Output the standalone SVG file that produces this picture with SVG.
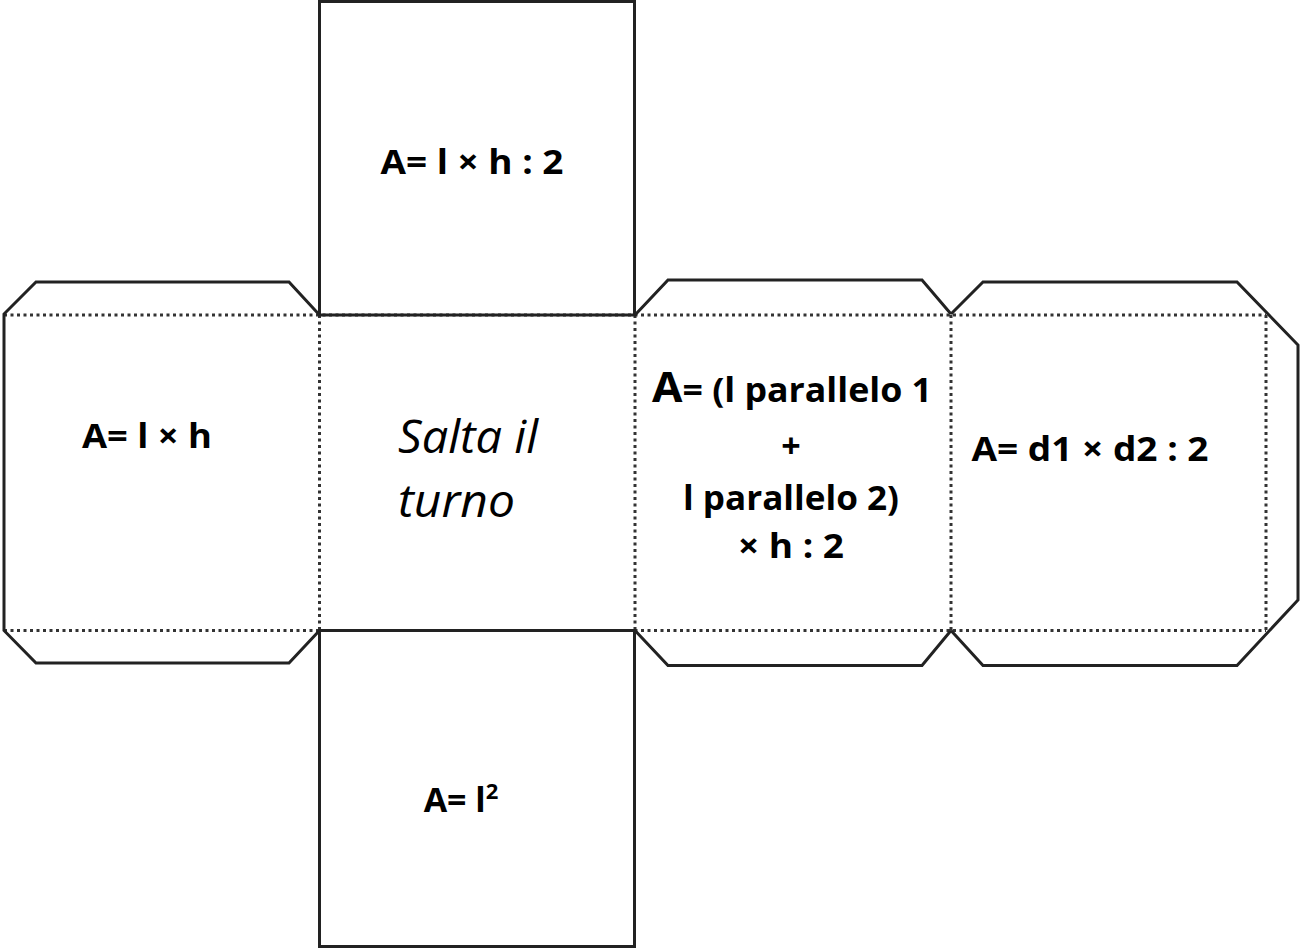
<svg xmlns="http://www.w3.org/2000/svg" width="1301" height="951" viewBox="0 0 1301 951">
<style>
.solid{fill:none;stroke:#222;stroke-width:3;stroke-linejoin:miter}
.dot{fill:none;stroke:#333;stroke-width:3;stroke-dasharray:3 3.5}
.t{font-family:"Open Sans","Liberation Sans",sans-serif;font-weight:bold;font-size:34px;fill:#000;text-anchor:middle}
.it{font-family:"Open Sans","Liberation Sans",sans-serif;font-style:italic;font-size:46px;fill:#000}
</style>
<rect width="1301" height="951" fill="#fff"/>
<g id="connectors">
<path class="dot" d="M4 315 H1266 M4 630.5 H1266 M319.5 315 V630.5 M635 315 V630.5 M951 315 V630.5 M1266 315 V630.5"/>
</g>
<g id="face-top">
<rect class="solid" x="319.5" y="1.5" width="315" height="313.5"/>
<text class="t" x="472" y="174" textLength="183" lengthAdjust="spacingAndGlyphs">A= l × h : 2</text>
</g>
<g id="face-left">
<path class="solid" d="M319.5 315 L289 282 H36 L4 314 V630.5 L36 663 H289 L319.5 630.5"/>
<text class="t" x="147" y="448" textLength="130" lengthAdjust="spacingAndGlyphs">A= l × h</text>
</g>
<g id="face-center">
<text class="it" x="398" y="453" textLength="140" lengthAdjust="spacingAndGlyphs">Salta il</text>
<text class="it" x="398" y="517" textLength="117" lengthAdjust="spacingAndGlyphs">turno</text>
</g>
<g id="face-right1">
<path class="solid" d="M635 315 L668 280 H922 L951 314 M635 630.5 L668 665.5 H922 L951 630.5"/>
<text class="t" x="792" y="402" textLength="280" lengthAdjust="spacingAndGlyphs"><tspan font-size="42px">A</tspan>= (l parallelo 1</text>
<text class="t" x="791" y="458">+</text>
<text class="t" x="791" y="510" textLength="216" lengthAdjust="spacingAndGlyphs">l parallelo 2)</text>
<text class="t" x="791" y="558" textLength="106" lengthAdjust="spacingAndGlyphs">× h : 2</text>
</g>
<g id="face-right2">
<path class="solid" d="M951 314 L983 282 H1237 L1298 345 V600 L1237 665.5 H983 L951 630.5"/>
<text class="t" x="1090" y="461" textLength="237" lengthAdjust="spacingAndGlyphs">A= d1 × d2 : 2</text>
</g>
<g id="face-bottom">
<rect class="solid" x="319.5" y="630.5" width="315" height="316"/>
<text class="t" x="461" y="812" text-anchor="middle">A= l<tspan font-size="22px" dy="-13">2</tspan></text>
</g>
</svg>
